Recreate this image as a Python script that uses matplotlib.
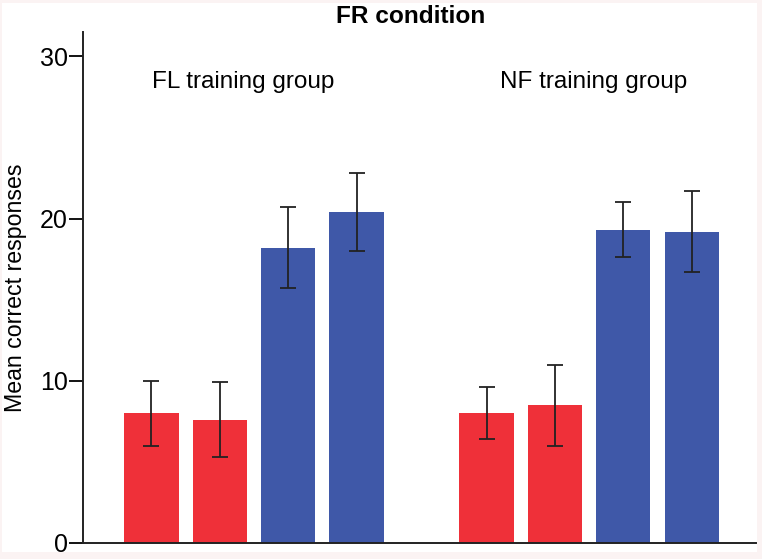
import matplotlib
matplotlib.use("Agg")
import matplotlib.pyplot as plt
from matplotlib.patches import Rectangle

plt.rcParams['font.family'] = ['Liberation Sans', 'DejaVu Sans']

groups = ["FL training group", "NF training group"]
means = [8.0, 7.6, 18.2, 20.4, 8.0, 8.5, 19.3, 19.2]
errors = [2.0, 2.3, 2.5, 2.4, 1.6, 2.5, 1.7, 2.5]
colors = ["#EF3039", "#EF3039", "#3F58A8", "#3F58A8",
          "#EF3039", "#EF3039", "#3F58A8", "#3F58A8"]
positions = [0, 1, 2, 3, 4.9, 5.9, 6.9, 7.9]
yticks = [0, 10, 20, 30]

fig = plt.figure(figsize=(7.62, 5.59), dpi=100, facecolor="#FBF3F3")
bg = Rectangle((2/762, 1 - 552/559), 755/762, 549/559,
               transform=fig.transFigure, facecolor="white",
               edgecolor="none", zorder=-10)
fig.add_artist(bg)
ax = fig.add_axes([83/762, 1 - 543/559, (756-83)/762, (543-32)/559])
ax.set_facecolor("none")
ax.set_zorder(1)

ax.bar(positions, means, width=0.794, color=colors, zorder=2)
ax.errorbar(positions, means, yerr=errors, fmt="none", ecolor="#222222",
            elinewidth=1.3, capsize=6, capthick=1.3, zorder=3)

ax.set_xlim(-1.0, 8.84)
ax.set_ylim(0, 31.5)
ax.set_yticks(yticks)
ax.set_xticks([])
ax.tick_params(axis="y", labelsize=18, length=10, width=1.3, pad=1)
for s in ["top", "right"]:
    ax.spines[s].set_visible(False)
for s in ["left", "bottom"]:
    ax.spines[s].set_linewidth(1.4)
    ax.spines[s].set_color("#222222")

ax.text(1.34, 28.05, groups[0], ha="center", va="baseline", fontsize=17.5)
ax.text(6.46, 28.05, groups[1], ha="center", va="baseline", fontsize=17.5)

ax.set_ylabel("Mean correct responses", fontsize=16.7, labelpad=9)
fig.text(410.5 / 762, 1 - 23/559, "FR condition", ha="center",
         va="baseline", fontsize=17.6, fontweight="bold", zorder=5)

fig.savefig("out.png", dpi=100, facecolor=fig.get_facecolor())
